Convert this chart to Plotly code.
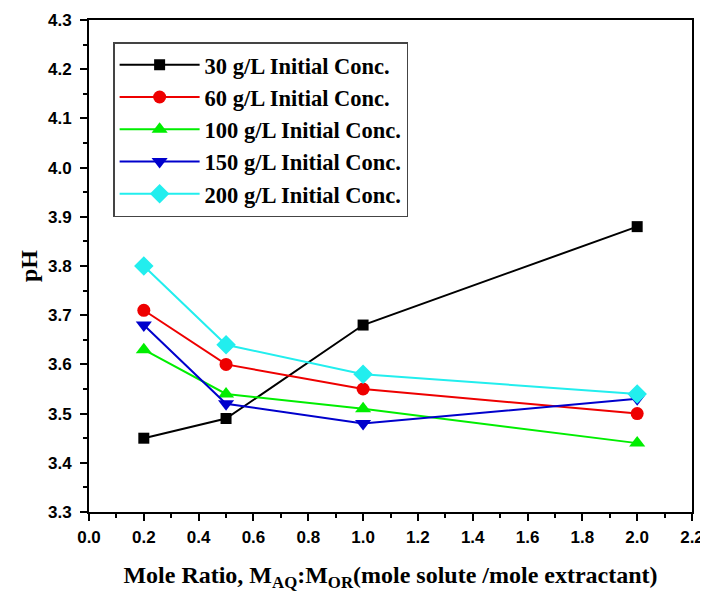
import plotly.graph_objects as go

x_vals = [0.2, 0.5, 1.0, 2.0]
names = ["30 g/L Initial Conc.", "60 g/L Initial Conc.", "100 g/L Initial Conc.",
         "150 g/L Initial Conc.", "200 g/L Initial Conc."]
ph_30 = [3.45, 3.49, 3.68, 3.88]
ph_60 = [3.71, 3.60, 3.55, 3.50]
ph_100 = [3.63, 3.54, 3.51, 3.44]
ph_150 = [3.68, 3.52, 3.48, 3.53]
ph_200 = [3.80, 3.64, 3.58, 3.54]

series = [ph_30, ph_60, ph_100, ph_150, ph_200]
colors = ["#000000", "#ee0000", "#00ee00", "#0000cc", "#22eeee"]
symbols = ["square", "circle", "triangle-up", "triangle-down", "diamond"]
sizes = [11, 13, 14, 14, 15]

SERIF = "Liberation Serif, Times New Roman, serif"
SANS = "Liberation Sans, Arial, sans-serif"

fig = go.Figure()
for name, ys, c, s, sz in zip(names, series, colors, symbols, sizes):
    fig.add_trace(go.Scatter(x=x_vals, y=ys, name=name, mode="lines+markers",
                             line=dict(color=c, width=2),
                             marker=dict(symbol=s, size=sz, color=c)))

axis_common = dict(showline=True, linecolor="black", linewidth=2, mirror=True,
                   ticks="outside", tickwidth=2, ticklen=7, tickcolor="black",
                   showgrid=False, zeroline=False, automargin=False,
                   tickfont=dict(family=SANS, size=17, color="black", weight="bold"))

fig.update_xaxes(range=[0, 2.2], dtick=0.2, tickformat=".1f", ticklabelstandoff=2,
                 minor=dict(dtick=0.1, ticks="outside", ticklen=4, tickwidth=2, tickcolor="black"),
                 title=dict(text="Mole Ratio, M<sub>AQ</sub>:M<sub>OR</sub>(mole solute /mole extractant)",
                            font=dict(family=SERIF, size=24, color="black", weight="bold"),
                            standoff=20),
                 **axis_common)
fig.update_yaxes(range=[3.3, 4.3], dtick=0.1, tickformat=".1f", ticklabelstandoff=5,
                 minor=dict(dtick=0.05, ticks="outside", ticklen=4, tickwidth=2, tickcolor="black"),
                 title=dict(text="pH",
                            font=dict(family=SERIF, size=24, color="black", weight="bold"),
                            standoff=4),
                 **axis_common)

fig.update_layout(
    width=700, height=585,
    margin=dict(l=81, r=16, t=12, b=81),
    plot_bgcolor="white", paper_bgcolor="white",
    legend=dict(x=0.04, y=0.955, xanchor="left", yanchor="top",
                bordercolor="#444444", borderwidth=1.5, bgcolor="white",
                font=dict(family=SERIF, size=22.5, color="black", weight="bold"),
                itemwidth=80, tracegroupgap=0),
    showlegend=True,
)

fig.write_html("out.html")
